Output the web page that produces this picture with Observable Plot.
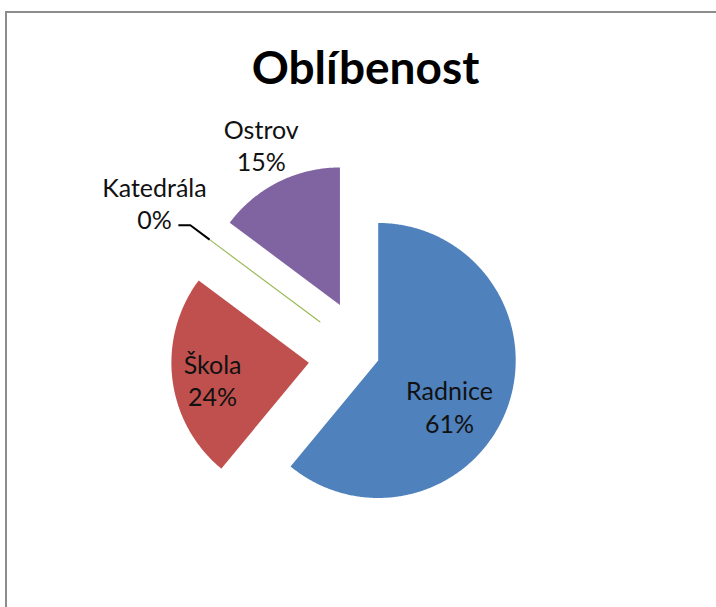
<!DOCTYPE html>
<html><head><meta charset="utf-8">
<script src="https://cdn.jsdelivr.net/npm/d3@7"></script>
<script src="https://cdn.jsdelivr.net/npm/@observablehq/plot@0.6"></script>
<style>
html,body{margin:0;padding:0;background:#fff;overflow:hidden;width:716px;height:607px}
#frame{position:absolute;left:5px;top:11px;width:760px;height:660px;border:2px solid #8c8c8c;box-sizing:border-box}
#title{position:absolute;left:0;width:731px;top:44px;text-align:center;font:bold 46px/46px Lato,sans-serif;color:#000}
#chart{position:absolute;left:0;top:0}
</style></head><body>
<div id="frame"></div>
<div id="title">Oblíbenost</div>
<div id="chart"></div>
<script>
// ---- data ----
const categories = ["Radnice", "Škola", "Katedrála", "Ostrov"];
const values = [61.0, 24.2, 0, 14.8];
const colors = ["#4F81BD", "#C0504D", "#9BBB59", "#8064A2"];

// ---- layout / style ----
const W = 716, H = 607;
const cx = 365, cy = 355.4, R = 137.5;
const explode = [13.5, 57, 57, 57];          // per-slice explosion (px)
const labelRho = [84.5, 97.8, 204, 178.6];    // label distance from slice apex
const labelDAng = [12.7, -3.2, -0.9, 0.5];    // label angle nudge (deg)

const total = d3.sum(values);
const arcs = d3.pie().sort(null).value(d => d)(values);
const rad = Math.PI / 180;
const dir = a => [Math.sin(a), -Math.cos(a)];

const polys = [], zeroLines = [], labels = [], leader = [];
arcs.forEach((a, i) => {
  const mid = (a.startAngle + a.endAngle) / 2;
  const [ux, uy] = dir(mid);
  const ax = cx + explode[i] * ux, ay = cy + explode[i] * uy;
  const name = categories[i];
  if (a.endAngle - a.startAngle > 1e-6) {
    polys.push({name, x: ax, y: ay});
    const n = Math.max(2, Math.ceil((a.endAngle - a.startAngle) / (0.5 * rad)));
    for (let k = 0; k <= n; k++) {
      const t = a.startAngle + (a.endAngle - a.startAngle) * k / n;
      const [dx, dy] = dir(t);
      polys.push({name, x: ax + R * dx, y: ay + R * dy});
    }
  } else {
    const ox = ax + R * ux, oy = ay + R * uy;
    zeroLines.push({name, x: ax, y: ay}, {name, x: ox, y: oy});
    const ex = ox + 24 * ux, ey = oy + 24 * uy;
    leader.push({x: ex - 12, y: ey}, {x: ex, y: ey}, {x: ox, y: oy});
  }
  const la = mid + labelDAng[i] * rad;
  const [lx, ly] = dir(la);
  labels.push({
    x: ax + labelRho[i] * lx, y: ay + labelRho[i] * ly,
    text: `${name}\n${Math.round(values[i] / total * 100)}%`
  });
});

const chart = Plot.plot({
  width: W, height: H, margin: 0,
  style: {fontFamily: "Lato, sans-serif", background: "transparent"},
  x: {domain: [0, W], range: [0, W], axis: null},
  y: {domain: [0, H], range: [0, H], axis: null},
  color: {domain: categories, range: colors},
  marks: [
    Plot.line(polys, {x: "x", y: "y", z: "name", fill: "name", stroke: "none", curve: "linear-closed"}),
    Plot.line(zeroLines, {x: "x", y: "y", z: "name", stroke: "name", strokeWidth: 1.2}),
    Plot.line(leader, {x: "x", y: "y", stroke: "#000", strokeWidth: 2, strokeLinecap: "butt"}),
    Plot.text(labels, {x: "x", y: "y", text: "text", fontSize: 25, lineHeight: 1.3, fill: "#111"})
  ]
});
document.getElementById("chart").appendChild(chart);
</script>
</body></html>
